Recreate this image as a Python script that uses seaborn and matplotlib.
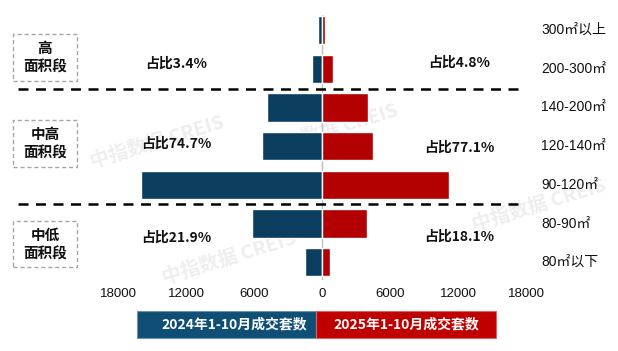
import pandas as pd
import matplotlib
matplotlib.use('Agg')
import matplotlib.pyplot as plt
from matplotlib.patches import Rectangle
from matplotlib.lines import Line2D
import seaborn as sns

# data
areas = ['300㎡以上', '200-300㎡', '140-200㎡', '120-140㎡', '90-120㎡', '80-90㎡', '80㎡以下']
sales_2024 = [330, 860, 4850, 5300, 15970, 6180, 1500]
sales_2025 = [290, 970, 4060, 4530, 11240, 3970, 735]
series = ['2024年1-10月成交套数', '2025年1-10月成交套数']
groups = ['高\n面积段', '中高\n面积段', '中低\n面积段']
share_2024 = ['占比3.4%', '占比74.7%', '占比21.9%']
share_2025 = ['占比4.8%', '占比77.1%', '占比18.1%']
ticks = [-18000, -12000, -6000, 0, 6000, 12000, 18000]

blue = '#0B3D5E'
red = '#B30000'

sns.set_theme(style='white')
plt.rcParams['font.family'] = ['Noto Sans CJK SC', 'DejaVu Sans']

table = pd.DataFrame({
    'area': areas * 2,
    'value': [-v for v in sales_2024] + sales_2025,
    'year': [series[0]] * len(areas) + [series[1]] * len(areas),
})

W, H = 618, 351
fig = plt.figure(figsize=(W / 100, H / 100), dpi=100)
ax = fig.add_axes([118 / W, 71 / H, 408 / W, 265 / H])


def fx(px):
    return px / W


def fy(py):
    return 1 - py / H


# faint watermarks, kept under the bars
for x, y in [(88, 142), (262, 130), (160, 258), (470, 205)]:
    ax.text(fx(x), fy(y), '中指数据 CREIS', fontsize=14, color='#EEEEEE',
            rotation=17, ha='left', va='center', fontweight='bold',
            transform=fig.transFigure, zorder=0.1, clip_on=False)

sns.barplot(data=table, x='value', y='area', hue='year', order=areas,
            palette=[blue, red], dodge=False, width=0.73, orient='h',
            legend=False, ax=ax, saturation=1, zorder=2)
ax.set_xlim(-18000, 18000)
ax.set_ylim(6.46, -0.39)
ax.axvline(0, color='#BFBFBF', lw=1, zorder=1)
sns.despine(ax=ax, left=True, bottom=True)
ax.set_xlabel('')
ax.set_ylabel('')
ax.set_yticks([])
ax.set_xticks(ticks)
ax.set_xticklabels([str(abs(t)) for t in ticks], fontsize=9.5, color='#111111',
                   family=['Liberation Sans', 'DejaVu Sans'])
ax.tick_params(axis='x', length=0, pad=6)

# category labels on the right
for i, a in enumerate(areas):
    fig.text(fx(541), fy(30 + 38.7 * i), a, fontsize=10, color='#111111',
             ha='left', va='center', family=['Liberation Sans', 'Noto Sans CJK SC'])

# dashed separators
for py in [89, 204]:
    fig.add_artist(Line2D([fx(18), fx(523)], [fy(py), fy(py)], color='black',
                          lw=1.8, ls=(0, (4, 3))))

# group boxes
for (top, bottom), g in zip([(34, 81), (120, 167), (221, 267)], groups):
    fig.add_artist(Rectangle((fx(13), fy(bottom)), fx(64), (bottom - top) / H,
                             fill=False, ec='#A6A6A6', lw=1, ls=(0, (3, 2))))
    fig.text(fx(45), fy((top + bottom) / 2), g, fontsize=10.5, fontweight='bold',
             ha='center', va='center', linespacing=1.2, color='#111111')

# share labels
for py, s in zip([64, 144, 238], share_2024):
    fig.text(fx(176), fy(py), s, fontsize=10, fontweight='bold', ha='center',
             va='center', color='#111111')
for py, s in zip([63, 148, 237], share_2025):
    fig.text(fx(459), fy(py), s, fontsize=10, fontweight='bold', ha='center',
             va='center', color='#111111')

# legend bars
fig.add_artist(Rectangle((fx(137), fy(338)), fx(179), 27 / H, fc='#0F4F75',
                         ec='#6F93AA', lw=0.8))
fig.add_artist(Rectangle((fx(316), fy(338)), fx(180), 27 / H, fc='#C00000',
                         ec='#D96666', lw=0.8))
fig.text(fx(234), fy(324.5), series[0], fontsize=10, fontweight='bold',
         color='white', ha='center', va='center')
fig.text(fx(406), fy(324.5), series[1], fontsize=10, fontweight='bold',
         color='white', ha='center', va='center')

fig.savefig('out.png', dpi=100)
